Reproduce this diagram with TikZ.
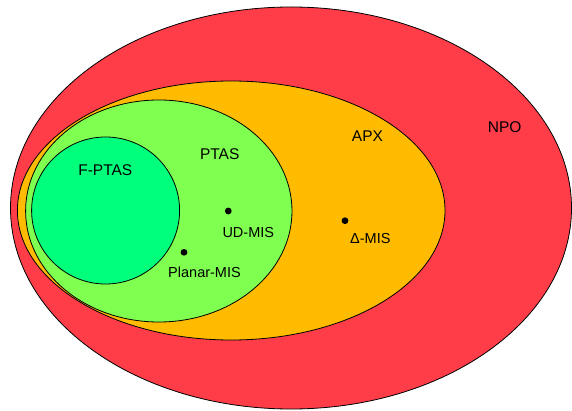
\documentclass[tikz,border=0pt]{standalone}
\usepackage{fontspec}
\setmainfont{Liberation Sans}
\definecolor{npored}{HTML}{FE3D48}
\definecolor{apxorange}{HTML}{FFBB00}
\definecolor{ptasgreen}{HTML}{7FFF4F}
\definecolor{fptasgreen}{HTML}{00FF7A}
\begin{document}
\begin{tikzpicture}[x=1pt,y=-1pt,
  region/.style={draw=black,line width=0.8pt},
  biglabel/.style={anchor=base,inner sep=0pt,font=\fontsize{15.5}{18}\selectfont},
  smalllabel/.style={anchor=base,inner sep=0pt,font=\fontsize{14.5}{17}\selectfont},
  problemdot/.style={circle,fill=black,inner sep=0pt,minimum size=6.8pt}]
\useasboundingbox (0,0) rectangle (572,411);
\fill[white] (0,0) rectangle (572,411);
\draw[region,fill=npored] (291,208) ellipse [x radius=280.5, y radius=201];
\draw[region,fill=apxorange] (231.2,210.5) ellipse [x radius=213.8, y radius=129.5];
\draw[region,fill=ptasgreen] (158.8,211) ellipse [x radius=133.2, y radius=111];
\draw[region,fill=fptasgreen] (105.6,210.5) ellipse [x radius=74, y radius=73.5];
\node[biglabel] (npo) at (504.7,133) {NPO};
\node[biglabel] (apx) at (367.5,142) {APX};
\node[biglabel] (ptas) at (219.7,159.4) {PTAS};
\node[biglabel] (fptas) at (105.3,175.9) {F-PTAS};
\node[problemdot] (ud) at (228.3,211) {};
\node[problemdot] (planar) at (184,252.3) {};
\node[problemdot] (delta) at (345,220.7) {};
\node[smalllabel] (udl) at (248.3,237.2) {UD-MIS};
\node[smalllabel] (planarl) at (204.5,277.7) {Planar-MIS};
\node[smalllabel] (deltal) at (370.3,244) {Δ-MIS};
\end{tikzpicture}
\end{document}
